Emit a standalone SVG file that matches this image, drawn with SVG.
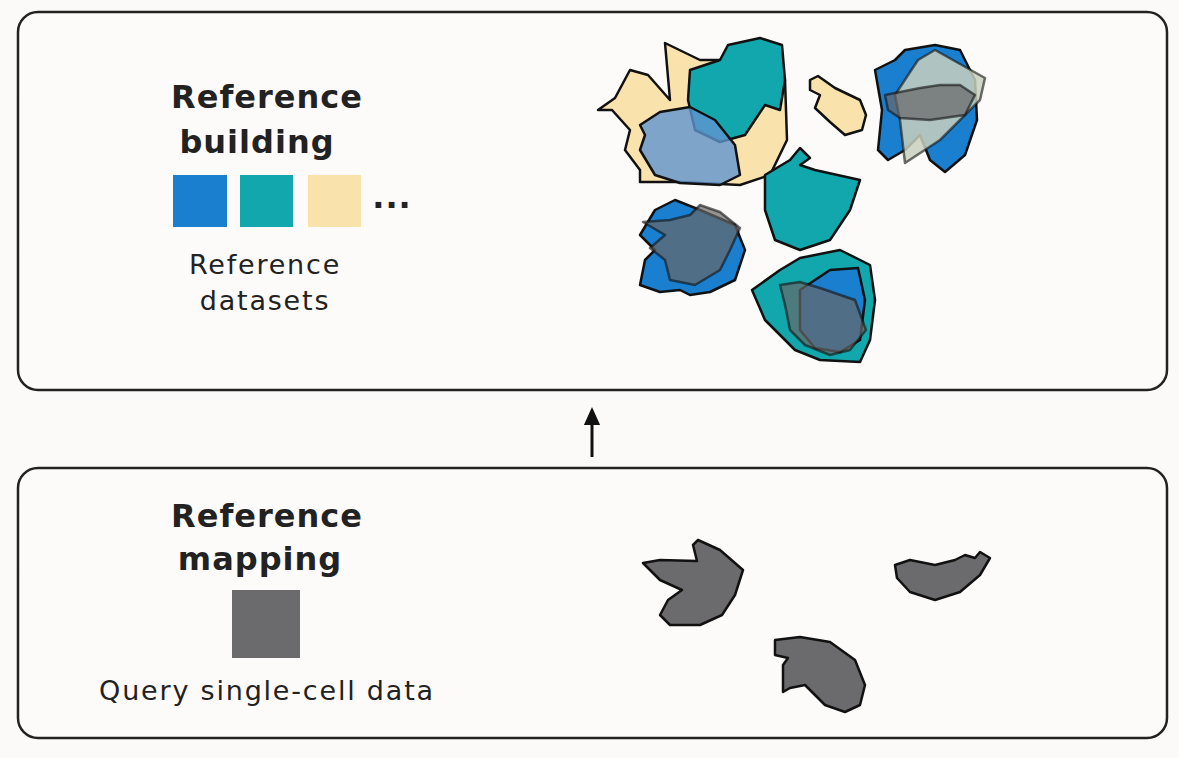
<svg xmlns="http://www.w3.org/2000/svg" width="1179" height="758" viewBox="0 0 1179 758">
<style>
.box{fill:#fdfbf9;stroke:#222;stroke-width:2.5}
.b{stroke:#111;stroke-width:2.5;stroke-linejoin:round}
.t{font-family:"DejaVu Sans","Liberation Sans",sans-serif;fill:#222;text-anchor:middle}
.h{font-size:32px;font-weight:bold;letter-spacing:1px}
.s{font-size:27px;letter-spacing:1.8px}
</style>
<defs><marker id="ah" markerWidth="6" markerHeight="6" refX="3" refY="3" orient="auto"><path d="M0,0.3L6,3L0,5.7z" fill="#111"/></marker></defs>
<rect width="1179" height="758" fill="#fcfaf8"/>
<g id="top"><rect class="box" x="18" y="12" width="1149" height="378" rx="20"/>
<text class="t h" x="267" y="108">Reference</text><text class="t h" x="257" y="153">building</text>
<rect x="173" y="175" width="54" height="52" fill="#1b7fd0"/><rect x="240" y="175" width="53" height="52" fill="#12a7ad"/><rect x="308" y="175" width="53" height="52" fill="#fae2ad"/>
<text class="t h" x="392" y="208">...</text>
<text class="t s" x="265" y="274">Reference</text><text class="t s" x="265" y="310">datasets</text>
<g id="clusters">
<polygon class="b" fill="#fae2ad" points="598,110 615,98 630,70 648,75 670,100 665,43 700,60 740,60 785,80 787,140 770,175 740,185 680,182 640,182 640,170 625,150 630,130 612,110"/>
<polygon class="b" fill="#12a7ad" points="690,70 720,60 728,45 760,38 782,45 785,80 780,110 765,105 745,135 720,142 695,130 688,100"/>
<polygon class="b" fill="#5f95cf" fill-opacity="0.8" points="640,125 660,112 690,107 715,120 735,145 740,175 720,185 680,183 655,175 640,150 645,135"/>
<polygon class="b" fill="#fae2ad" points="810,80 818,76 835,88 860,100 866,115 862,130 845,135 830,122 815,108 820,95 810,90"/>
<polygon class="b" fill="#1b7fd0" points="875,70 895,60 905,50 935,45 960,50 975,80 977,120 965,155 945,172 930,160 920,135 905,150 888,160 878,150 882,110"/>
<polygon class="b" fill="#c9d0bd" fill-opacity="0.85" stroke-opacity="0.6" points="918,60 935,50 985,78 980,100 940,140 905,163 900,120 895,95"/>
<polygon class="b" fill="#666" fill-opacity="0.7" stroke-opacity="0.6" points="885,95 920,88 940,85 960,85 975,95 965,115 930,120 900,118 888,110"/>
<polygon class="b" fill="#12a7ad" points="765,175 790,160 800,148 810,158 800,165 815,170 860,180 850,210 830,240 800,250 775,240 765,210"/>
<polygon class="b" fill="#1b7fd0" points="640,235 655,210 675,200 700,210 735,225 745,250 735,280 710,292 690,295 680,290 660,292 640,285 645,260 655,250"/>
<polygon class="b" fill="#666" fill-opacity="0.7" stroke-opacity="0.6" points="643,222 670,220 690,215 700,205 720,212 740,228 730,250 720,270 695,285 670,280 665,260 650,248 665,235"/>
<polygon class="b" fill="#12a7ad" points="752,290 780,270 800,258 840,250 870,265 875,300 870,340 860,362 820,360 795,350 765,320"/>
<polygon class="b" fill="#1b7fd0" points="800,290 830,270 858,268 865,300 860,340 840,352 815,348 800,330"/>
<polygon class="b" fill="#666" fill-opacity="0.7" stroke-opacity="0.6" points="780,285 800,282 820,288 855,300 866,330 850,350 830,355 805,345 790,330 785,305"/>
</g></g>
<g id="connectors"><line x1="592" y1="457" x2="592" y2="416" stroke="#111" stroke-width="3" marker-end="url(#ah)"/></g>
<g id="bottom"><rect class="box" x="18" y="468" width="1149" height="270" rx="20"/>
<text class="t h" x="267" y="527">Reference</text><text class="t h" x="260" y="570">mapping</text>
<rect x="232" y="590" width="68" height="68" fill="#6b6b6e"/>
<text class="t s" x="267" y="700">Query single-cell data</text>
<g id="query">
<polygon class="b" fill="#6b6b6e" points="643,563 660,560 697,561 693,545 698,540 720,550 743,570 735,595 722,615 700,625 670,625 660,615 668,600 682,590 660,580"/>
<polygon class="b" fill="#6b6b6e" points="895,565 910,560 935,565 955,560 965,555 975,558 980,552 990,558 980,575 960,592 935,600 910,592 897,578"/>
<polygon class="b" fill="#6b6b6e" points="775,640 800,637 830,642 855,660 865,685 860,705 845,712 825,705 805,685 790,688 783,692 783,665 788,658 775,655"/>
</g></g>
</svg>
